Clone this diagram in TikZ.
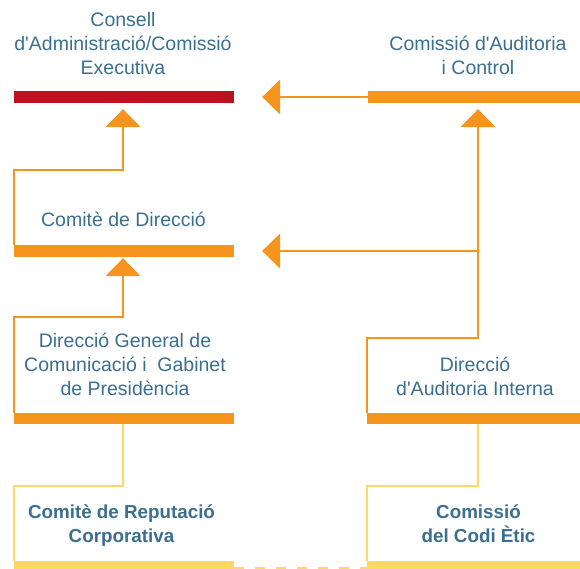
\documentclass[tikz,border=0pt]{standalone}
\usepackage{fontspec}
\setmainfont{Liberation Sans}
\usetikzlibrary{arrows.meta}
\definecolor{cred}{HTML}{BC1220}
\definecolor{corange}{HTML}{F7941D}
\definecolor{cyellow}{HTML}{FED766}
\definecolor{ctext}{HTML}{3B6E8F}
\begin{document}
\begin{tikzpicture}[
    x=1pt, y=-1pt,
    bar/.style={rectangle, inner sep=0pt, minimum width=220pt, minimum height=12pt},
    lbl/.style={text=ctext, font=\fontsize{19.5}{24}\selectfont, align=center, inner sep=0pt, anchor=base},
    boldlbl/.style={lbl, font=\bfseries\fontsize{18.8}{24}\selectfont},
    link/.style={draw=corange, line width=1.5pt},
    ylink/.style={draw=cyellow, line width=1.5pt},
    arr/.style={-{Triangle[length=18pt,width=35pt]}}
]
\useasboundingbox (0,0) rectangle (580,569);

% Bars
\node[bar, fill=cred] (consell) at (124,97) {};
\node[bar, fill=corange, minimum width=212pt] (auditcom) at (474,97) {};
\node[bar, fill=corange] (comite) at (124,251) {};
\node[bar, fill=corange, minimum height=11pt] (dirgen) at (124,418.5) {};
\node[bar, fill=corange, minimum width=213pt, minimum height=11pt] (dirauditoria) at (473.5,418.5) {};
\node[bar, fill=cyellow] (reputacio) at (124,567) {};
\node[bar, fill=cyellow, minimum width=213pt] (codietic) at (473.5,567) {};

% Labels
\node[lbl] (tconsell) at (123,75) {Consell\\d\textquotesingle Administració/Comissió\\Executiva};
\node[lbl] (tauditcom) at (478,75) {Comissió d\textquotesingle Auditoria\\i Control};
\node[lbl] (tcomite) at (123.5,226) {Comitè de Direcció};
\node[lbl] (tdirgen) at (125,395) {Direcció General de\\Comunicació i\ \ Gabinet\\de Presidència};
\node[lbl] (tdirauditoria) at (475,395) {Direcció\\d\textquotesingle Auditoria Interna};
\node[boldlbl] (treputacio) at (121.5,542) {Comitè de Reputació\\Corporativa};
\node[boldlbl] (tcodietic) at (478.5,542) {Comissió\\del Codi Ètic};

% Bends
\coordinate (b1) at (123,170);
\coordinate (b2) at (478,338);
\coordinate (b3) at (123,317);
\coordinate (b4) at (123,486);
\coordinate (b5) at (478,486);

% Connectors
\draw[link, arr, shorten >=28pt] (auditcom.west) -- (consell.east);
\draw[link, arr, shorten >=6pt] (comite.north west) |- (b1) -- (b1 |- consell.south);
\draw[link, arr, shorten >=6pt] (dirauditoria.north west) |- (b2) -- (b2 |- auditcom.south);
\draw[link, arr, shorten >=28pt] (b2 |- comite.east) -- (comite.east);
\draw[link, arr, shorten >=1pt] (dirgen.north west) |- (b3) -- (b3 |- comite.south);
\draw[ylink] (b4 |- dirgen.south) -- (b4) -| (reputacio.north west);
\draw[ylink] (b5 |- dirauditoria.south) -- (b5) -| (codietic.north west);
\draw[ylink, dash pattern=on 10pt off 11pt] ([yshift=-1pt]reputacio.east) -- ([yshift=-1pt]codietic.west);

\end{tikzpicture}
\end{document}
